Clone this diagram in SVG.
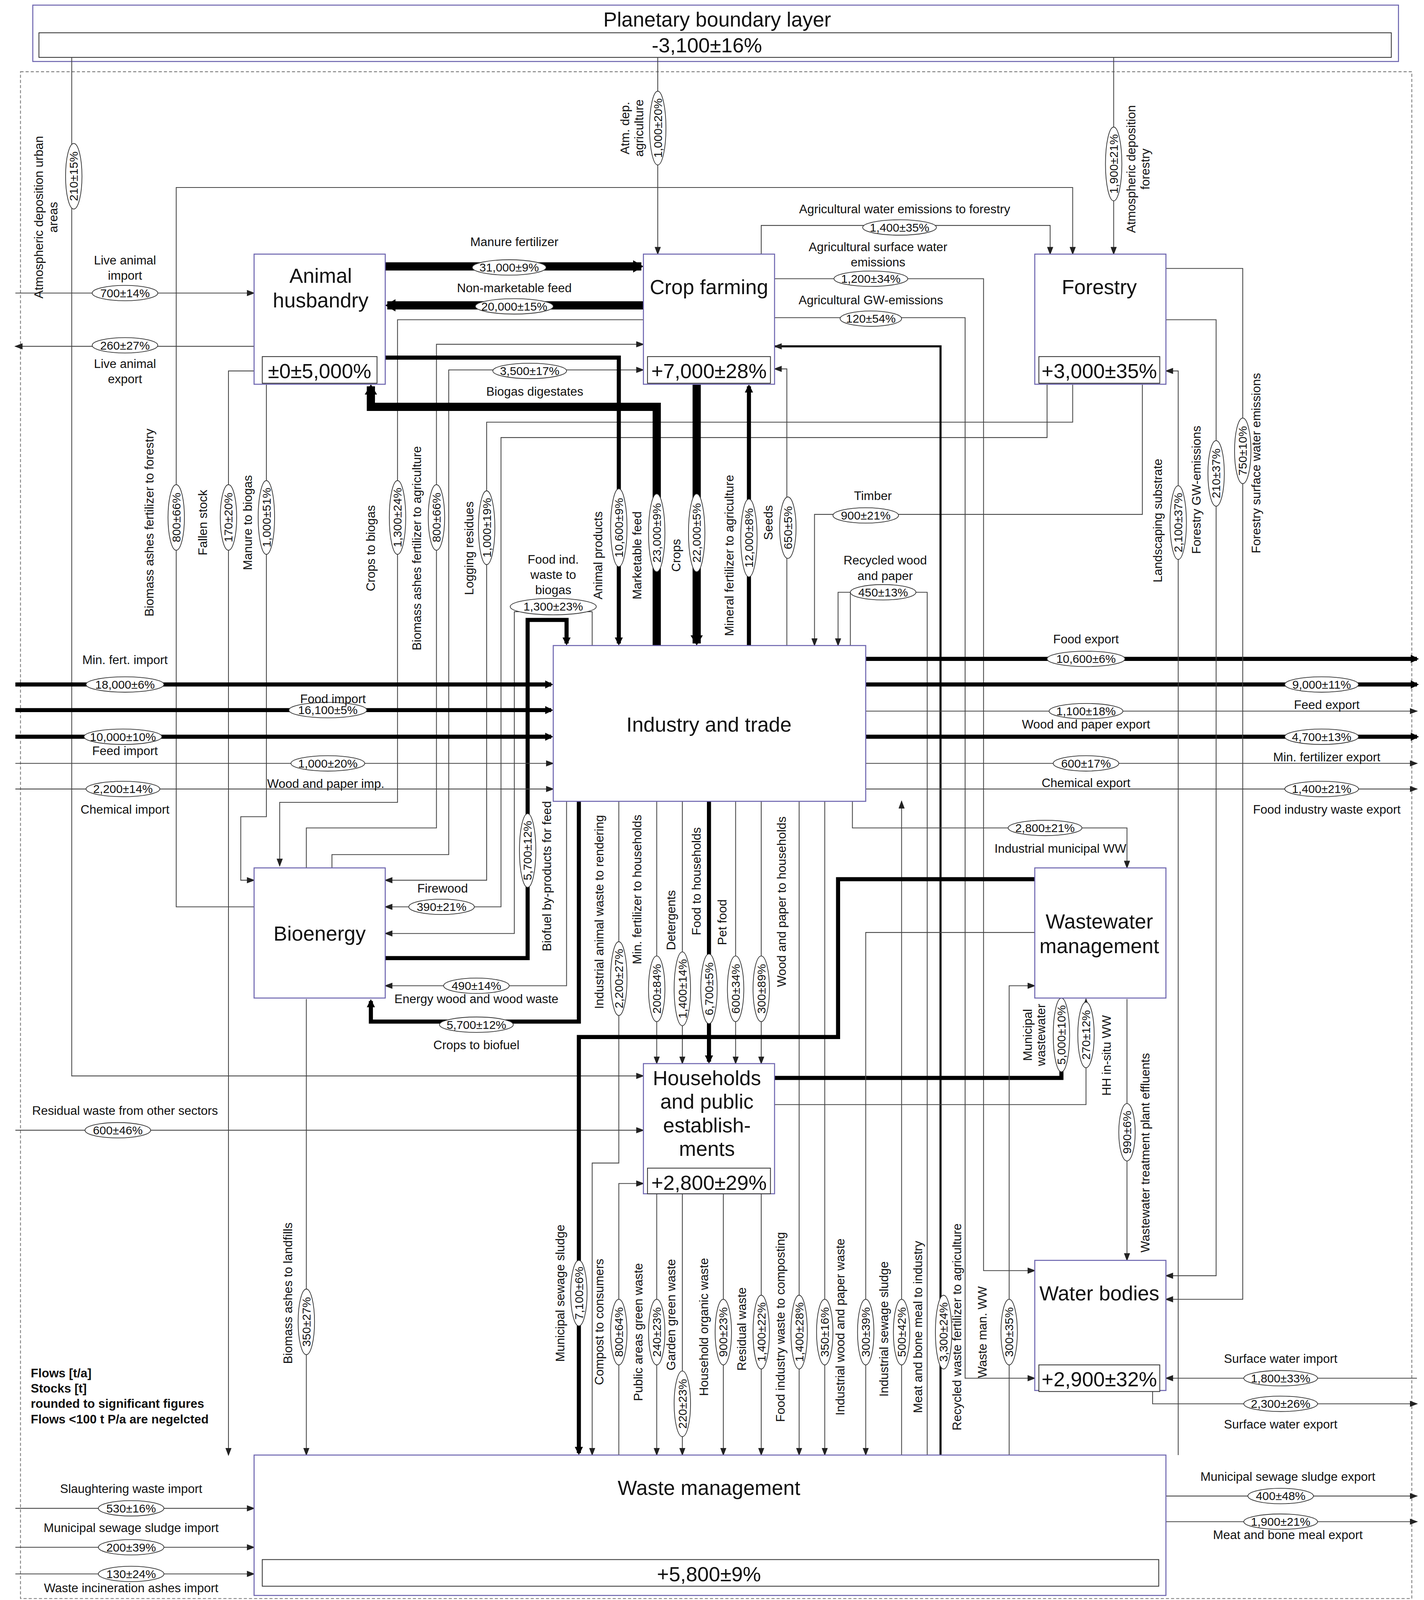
<svg xmlns="http://www.w3.org/2000/svg" width="3646" height="4098" viewBox="0 0 3646 4098">
<style>
text{font-family:"Liberation Sans",Arial,sans-serif;fill:#111;text-anchor:middle}
.nb{fill:#fff;stroke:#6e66b0;stroke-width:1}
.sb{fill:#fff;stroke:#333;stroke-width:0.8}
.ti{font-size:20px}
.st{font-size:20px}
.s{font-size:12px}
.e ellipse{fill:#fff;stroke:#333;stroke-width:0.7}
.e text{font-size:11.5px}
.l{fill:none;stroke:#444;stroke-width:0.8;marker-end:url(#a)}
.n{fill:none;stroke:#444;stroke-width:0.8}
.t{fill:none;stroke:#000;stroke-width:4;marker-end:url(#b)}
.m{fill:none;stroke:#000;stroke-width:2;marker-end:url(#a)}
.w{fill:none;stroke:#000;stroke-width:8;marker-end:url(#c)}
</style>
<defs>
<marker id="a" markerUnits="userSpaceOnUse" markerWidth="8" markerHeight="6" refX="7" refY="3" orient="auto"><path d="M0,0L8,3L0,6z" fill="#222"/></marker>
<marker id="b" markerUnits="userSpaceOnUse" markerWidth="8" markerHeight="8" refX="6" refY="4" orient="auto"><path d="M0,0L8,4L0,8z" fill="#000"/></marker>
<marker id="c" markerUnits="userSpaceOnUse" markerWidth="10" markerHeight="12" refX="8" refY="6" orient="auto"><path d="M0,0L10,6L0,12z" fill="#000"/></marker>
</defs>
<rect width="3646" height="4098" fill="#fff"/>
<g transform="scale(2.6232)">
<rect x="20" y="70" width="1358" height="1490" fill="none" stroke="#777" stroke-width="0.8" stroke-dasharray="3,2"/>
<g id="pbl"><rect x="32" y="5" width="1333" height="55" class="nb" stroke="#333"/><rect x="38" y="32" width="1320" height="24" class="sb"/>
<text x="700" y="26" class="ti">Planetary boundary layer</text><text x="690" y="51" class="st">-3,100±16%</text></g>

<g id="connectors">
<!-- atmospheric -->
<path class="l" d="M70,56V1050H628"/>
<path class="l" d="M642,56V248"/>
<path class="l" d="M1087,56V248"/>
<path class="l" d="M248,885H172V183H1047V248"/>
<path class="l" d="M743,248V220H1025V248"/>
<path class="l" d="M756,272H960V1240H1010"/>
<path class="l" d="M756,310H942V1345H1010"/>
<path class="l" d="M15,286H248"/>
<path class="l" d="M248,338H15"/>
<path class="w" d="M376,260H626"/>
<path class="w" d="M628,298H378"/>
<path class="l" d="M324,847V834H438V361H628"/>
<path class="l" d="M299,847V808H426V336H628"/>
<path class="l" d="M628,312H388V783H273V845"/>
<path class="l" d="M260,375V797H235V859H248"/>
<path class="l" d="M248,362H223V1420"/>
<path class="l" d="M1047,375V412H475V859H376"/>
<path class="l" d="M1022,375V427H489V885H376"/>
<path class="l" d="M578,630V597H502V911H376"/>
<path class="t" d="M376,935H515V605H553V628"/>
<path class="l" d="M553,782V962H376"/>
<path class="t" d="M565,782V997H362V977"/>
<path class="t" d="M376,349H604V628"/>
<path class="w" d="M641,630V397H362V377"/>
<path class="w" d="M680,375V628"/>
<path class="t" d="M731,630V377"/>
<path class="l" d="M768,630V360H756"/>
<path class="l" d="M1115,375V502H795V630"/>
<path class="l" d="M905,1420V578H818V630"/>
<path class="n" d="M830,578V630"/>
<path class="m" d="M918,1420V338H756"/>
<!-- exports -->
<path class="t" d="M845,643H1383"/>
<path class="t" d="M845,668H1383"/>
<path class="l" d="M845,694H1383"/>
<path class="t" d="M845,719H1383"/>
<path class="l" d="M845,745H1383"/>
<path class="l" d="M845,770H1383"/>
<path class="l" d="M832,782V808H1100V847"/>
<!-- imports -->
<path class="t" d="M15,668H538"/>
<path class="t" d="M15,693H538"/>
<path class="t" d="M15,719H538"/>
<path class="l" d="M15,745H540"/>
<path class="l" d="M15,770H540"/>
<!-- industry down -->
<path class="l" d="M604,782V1135H578V1420"/>
<path class="l" d="M604,1420V1155H628"/>
<path class="l" d="M641,782V1038"/>
<path class="l" d="M666,782V1038"/>
<path class="t" d="M692,782V1036"/>
<path class="l" d="M718,782V1038"/>
<path class="l" d="M743,782V1038"/>
<path class="l" d="M780,782V1420"/>
<path class="l" d="M805,782V1420"/>
<path class="l" d="M880,1420V782"/>
<!-- households -->
<path class="l" d="M641,1165V1420"/>
<path class="l" d="M666,1165V1420"/>
<path class="l" d="M706,1165V1420"/>
<path class="l" d="M743,1165V1420"/>
<path class="l" d="M15,1103H628"/>
<path class="t" d="M756,1052H1036V977"/>
<path class="l" d="M756,1078H1060V975"/>
<path class="l" d="M1100,975V1230"/>
<path class="t" d="M1010,858H818V1012H565V1418"/>
<path class="l" d="M1010,910H845V1420"/>
<path class="l" d="M985,1420V962H1010"/>
<path class="l" d="M299,975V1420"/>
<!-- forestry -->
<path class="l" d="M1138,262H1213V1268H1138"/>
<path class="l" d="M1138,312H1187V1245H1138"/>
<path class="l" d="M1150,1420V362H1138"/>
<!-- water -->
<path class="l" d="M1383,1345H1138"/>
<path class="l" d="M1125,1357V1370H1383"/>
<!-- waste -->
<path class="l" d="M15,1472H248"/>
<path class="l" d="M15,1510H248"/>
<path class="l" d="M15,1536H248"/>
<path class="l" d="M1138,1460H1383"/>
<path class="l" d="M1138,1485H1383"/>

<!-- labels horizontal -->
<g class="e">
<g transform="translate(878,222)"><ellipse rx="36" ry="7.5"/><text y="4">1,400±35%</text></g>
<g transform="translate(850,272)"><ellipse rx="36" ry="7.5"/><text y="4">1,200±34%</text></g>
<g transform="translate(850,311)"><ellipse rx="30" ry="7.5"/><text y="4">120±54%</text></g>
<g transform="translate(122,286)"><ellipse rx="32" ry="7.5"/><text y="4">700±14%</text></g>
<g transform="translate(122,337)"><ellipse rx="32" ry="7.5"/><text y="4">260±27%</text></g>
<g transform="translate(497,261)"><ellipse rx="36" ry="7.5"/><text y="4">31,000±9%</text></g>
<g transform="translate(502,299)"><ellipse rx="38" ry="7.5"/><text y="4">20,000±15%</text></g>
<g transform="translate(517,362)"><ellipse rx="36" ry="7.5"/><text y="4">3,500±17%</text></g>
<g transform="translate(540,592)"><ellipse rx="42" ry="8"/><text y="4">1,300±23%</text></g>
<g transform="translate(862,578)"><ellipse rx="32" ry="7.5"/><text y="4">450±13%</text></g>
<g transform="translate(845,503)"><ellipse rx="32" ry="7.5"/><text y="4">900±21%</text></g>
<g transform="translate(431,885)"><ellipse rx="32" ry="7.5"/><text y="4">390±21%</text></g>
<g transform="translate(465,962)"><ellipse rx="32" ry="7.5"/><text y="4">490±14%</text></g>
<g transform="translate(465,1000)"><ellipse rx="36" ry="7.5"/><text y="4">5,700±12%</text></g>
<g transform="translate(1060,643)"><ellipse rx="38" ry="7.5"/><text y="4">10,600±6%</text></g>
<g transform="translate(1290,668)"><ellipse rx="36" ry="7.5"/><text y="4">9,000±11%</text></g>
<g transform="translate(1060,694)"><ellipse rx="36" ry="7.5"/><text y="4">1,100±18%</text></g>
<g transform="translate(1290,719)"><ellipse rx="36" ry="7.5"/><text y="4">4,700±13%</text></g>
<g transform="translate(1060,745)"><ellipse rx="32" ry="7.5"/><text y="4">600±17%</text></g>
<g transform="translate(1290,770)"><ellipse rx="36" ry="7.5"/><text y="4">1,400±21%</text></g>
<g transform="translate(1020,808)"><ellipse rx="36" ry="7.5"/><text y="4">2,800±21%</text></g>
<g transform="translate(122,668)"><ellipse rx="38" ry="7.5"/><text y="4">18,000±6%</text></g>
<g transform="translate(320,693)"><ellipse rx="38" ry="7.5"/><text y="4">16,100±5%</text></g>
<g transform="translate(120,719)"><ellipse rx="38" ry="7.5"/><text y="4">10,000±10%</text></g>
<g transform="translate(320,745)"><ellipse rx="36" ry="7.5"/><text y="4">1,000±20%</text></g>
<g transform="translate(120,770)"><ellipse rx="36" ry="7.5"/><text y="4">2,200±14%</text></g>
<g transform="translate(115,1103)"><ellipse rx="32" ry="7.5"/><text y="4">600±46%</text></g>
<g transform="translate(1250,1345)"><ellipse rx="36" ry="7.5"/><text y="4">1,800±33%</text></g>
<g transform="translate(1250,1370)"><ellipse rx="36" ry="7.5"/><text y="4">2,300±26%</text></g>
<g transform="translate(128,1472)"><ellipse rx="32" ry="7.5"/><text y="4">530±16%</text></g>
<g transform="translate(128,1510)"><ellipse rx="32" ry="7.5"/><text y="4">200±39%</text></g>
<g transform="translate(128,1536)"><ellipse rx="32" ry="7.5"/><text y="4">130±24%</text></g>
<g transform="translate(1250,1460)"><ellipse rx="32" ry="7.5"/><text y="4">400±48%</text></g>
<g transform="translate(1250,1485)"><ellipse rx="36" ry="7.5"/><text y="4">1,900±21%</text></g>
</g>
<!-- labels vertical -->
<g class="e">
<g transform="translate(72,172) rotate(-90)"><ellipse rx="32" ry="8"/><text y="4">210±15%</text></g>
<g transform="translate(642,125) rotate(-90)"><ellipse rx="36" ry="8"/><text y="4">1,000±20%</text></g>
<g transform="translate(1087,160) rotate(-90)"><ellipse rx="36" ry="8"/><text y="4">1,900±21%</text></g>
<g transform="translate(172,505) rotate(-90)"><ellipse rx="32" ry="8"/><text y="4">800±66%</text></g>
<g transform="translate(223,505) rotate(-90)"><ellipse rx="32" ry="8"/><text y="4">170±20%</text></g>
<g transform="translate(260,505) rotate(-90)"><ellipse rx="36" ry="8"/><text y="4">1,000±51%</text></g>
<g transform="translate(388,505) rotate(-90)"><ellipse rx="36" ry="8"/><text y="4">1,300±24%</text></g>
<g transform="translate(426,505) rotate(-90)"><ellipse rx="32" ry="8"/><text y="4">800±66%</text></g>
<g transform="translate(475,515) rotate(-90)"><ellipse rx="36" ry="8"/><text y="4">1,000±19%</text></g>
<g transform="translate(604,515) rotate(-90)"><ellipse rx="38" ry="8"/><text y="4">10,600±9%</text></g>
<g transform="translate(641,520) rotate(-90)"><ellipse rx="38" ry="8"/><text y="4">23,000±9%</text></g>
<g transform="translate(680,520) rotate(-90)"><ellipse rx="38" ry="8"/><text y="4">22,000±5%</text></g>
<g transform="translate(731,525) rotate(-90)"><ellipse rx="38" ry="8"/><text y="4">12,000±8%</text></g>
<g transform="translate(769,515) rotate(-90)"><ellipse rx="30" ry="8"/><text y="4">650±5%</text></g>
<g transform="translate(1150,510) rotate(-90)"><ellipse rx="36" ry="8"/><text y="4">2,100±37%</text></g>
<g transform="translate(1187,462) rotate(-90)"><ellipse rx="32" ry="8"/><text y="4">210±37%</text></g>
<g transform="translate(1213,440) rotate(-90)"><ellipse rx="32" ry="8"/><text y="4">750±10%</text></g>
<g transform="translate(515,830) rotate(-90)"><ellipse rx="36" ry="8"/><text y="4">5,700±12%</text></g>
<g transform="translate(604,955) rotate(-90)"><ellipse rx="36" ry="8"/><text y="4">2,200±27%</text></g>
<g transform="translate(641,965) rotate(-90)"><ellipse rx="32" ry="8"/><text y="4">200±84%</text></g>
<g transform="translate(666,965) rotate(-90)"><ellipse rx="36" ry="8"/><text y="4">1,400±14%</text></g>
<g transform="translate(692,965) rotate(-90)"><ellipse rx="34" ry="8"/><text y="4">6,700±5%</text></g>
<g transform="translate(718,965) rotate(-90)"><ellipse rx="32" ry="8"/><text y="4">600±34%</text></g>
<g transform="translate(743,965) rotate(-90)"><ellipse rx="32" ry="8"/><text y="4">300±89%</text></g>
<g transform="translate(1036,1010) rotate(-90)"><ellipse rx="36" ry="8"/><text y="4">5,000±10%</text></g>
<g transform="translate(1060,1010) rotate(-90)"><ellipse rx="32" ry="8"/><text y="4">270±12%</text></g>
<g transform="translate(1100,1105) rotate(-90)"><ellipse rx="28" ry="8"/><text y="4">990±6%</text></g>
<g transform="translate(565,1262) rotate(-90)"><ellipse rx="32" ry="8"/><text y="4">7,100±6%</text></g>
<g transform="translate(299,1290) rotate(-90)"><ellipse rx="32" ry="8"/><text y="4">350±27%</text></g>
<g transform="translate(604,1300) rotate(-90)"><ellipse rx="32" ry="8"/><text y="4">800±64%</text></g>
<g transform="translate(641,1300) rotate(-90)"><ellipse rx="32" ry="8"/><text y="4">240±23%</text></g>
<g transform="translate(666,1370) rotate(-90)"><ellipse rx="32" ry="8"/><text y="4">220±23%</text></g>
<g transform="translate(706,1300) rotate(-90)"><ellipse rx="32" ry="8"/><text y="4">900±23%</text></g>
<g transform="translate(743,1300) rotate(-90)"><ellipse rx="36" ry="8"/><text y="4">1,400±22%</text></g>
<g transform="translate(780,1300) rotate(-90)"><ellipse rx="36" ry="8"/><text y="4">1,400±28%</text></g>
<g transform="translate(805,1300) rotate(-90)"><ellipse rx="32" ry="8"/><text y="4">350±16%</text></g>
<g transform="translate(845,1300) rotate(-90)"><ellipse rx="32" ry="8"/><text y="4">300±39%</text></g>
<g transform="translate(880,1300) rotate(-90)"><ellipse rx="32" ry="8"/><text y="4">500±42%</text></g>
<g transform="translate(921,1300) rotate(-90)"><ellipse rx="36" ry="8"/><text y="4">3,300±24%</text></g>
<g transform="translate(985,1300) rotate(-90)"><ellipse rx="32" ry="8"/><text y="4">300±35%</text></g>
</g>
<!-- flow names horizontal -->
<g class="s">
<text x="883" y="208">Agricultural water emissions to forestry</text>
<text x="857" y="245">Agricultural surface water</text><text x="857" y="260">emissions</text>
<text x="850" y="297">Agricultural GW-emissions</text>
<text x="122" y="258">Live animal</text><text x="122" y="273">import</text>
<text x="122" y="359">Live animal</text><text x="122" y="374">export</text>
<text x="502" y="240">Manure fertilizer</text>
<text x="502" y="285">Non-marketable feed</text>
<text x="522" y="386">Biogas digestates</text>
<text x="540" y="550">Food ind.</text><text x="540" y="565">waste to</text><text x="540" y="580">biogas</text>
<text x="852" y="488">Timber</text>
<text x="864" y="551">Recycled wood</text><text x="864" y="566">and paper</text>
<text x="432" y="871">Firewood</text>
<text x="465" y="979">Energy wood and wood waste</text>
<text x="465" y="1024">Crops to biofuel</text>
<text x="1060" y="628">Food export</text>
<text x="1295" y="692">Feed export</text>
<text x="1060" y="711">Wood and paper export</text>
<text x="1295" y="743">Min. fertilizer export</text>
<text x="1060" y="768">Chemical export</text>
<text x="1295" y="794">Food industry waste export</text>
<text x="1035" y="832">Industrial municipal WW</text>
<text x="122" y="648">Min. fert. import</text>
<text x="325" y="686">Food import</text>
<text x="122" y="737">Feed import</text>
<text x="318" y="769">Wood and paper imp.</text>
<text x="122" y="794">Chemical import</text>
<text x="122" y="1088">Residual waste from other sectors</text>
<text x="1250" y="1330">Surface water import</text>
<text x="1250" y="1394">Surface water export</text>
<text x="128" y="1457">Slaughtering waste import</text>
<text x="128" y="1495">Municipal sewage sludge import</text>
<text x="128" y="1554">Waste incineration ashes import</text>
<text x="1257" y="1445">Municipal sewage sludge export</text>
<text x="1257" y="1502">Meat and bone meal export</text>
</g>
<!-- flow names vertical -->
<g class="s">
<text transform="translate(42,212) rotate(-90)">Atmospheric deposition urban</text>
<text transform="translate(56,212) rotate(-90)">areas</text>
<text transform="translate(614,125) rotate(-90)">Atm. dep.</text>
<text transform="translate(628,125) rotate(-90)">agriculture</text>
<text transform="translate(1108,165) rotate(-90)">Atmospheric deposition</text>
<text transform="translate(1122,165) rotate(-90)">forestry</text>
<text transform="translate(150,510) rotate(-90)">Biomass ashes fertilizer to forestry</text>
<text transform="translate(202,510) rotate(-90)">Fallen stock</text>
<text transform="translate(246,510) rotate(-90)">Manure to biogas</text>
<text transform="translate(366,535) rotate(-90)">Crops to biogas</text>
<text transform="translate(411,535) rotate(-90)">Biomass ashes fertilizer to agriculture</text>
<text transform="translate(462,535) rotate(-90)">Logging residues</text>
<text transform="translate(588,542) rotate(-90)">Animal products</text>
<text transform="translate(626,542) rotate(-90)">Marketable feed</text>
<text transform="translate(664,542) rotate(-90)">Crops</text>
<text transform="translate(716,542) rotate(-90)">Mineral fertilizer to agriculture</text>
<text transform="translate(754,510) rotate(-90)">Seeds</text>
<text transform="translate(1134,508) rotate(-90)">Landscaping substrate</text>
<text transform="translate(1172,478) rotate(-90)">Forestry GW-emissions</text>
<text transform="translate(1230,452) rotate(-90)">Forestry surface water emissions</text>
<text transform="translate(538,855) rotate(-90)">Biofuel by-products for feed</text>
<text transform="translate(589,890) rotate(-90)">Industrial animal waste to rendering</text>
<text transform="translate(626,868) rotate(-90)">Min. fertilizer to households</text>
<text transform="translate(659,898) rotate(-90)">Detergents</text>
<text transform="translate(684,860) rotate(-90)">Food to households</text>
<text transform="translate(709,900) rotate(-90)">Pet food</text>
<text transform="translate(767,880) rotate(-90)">Wood and paper to households</text>
<text transform="translate(1007,1010) rotate(-90)">Municipal</text>
<text transform="translate(1020,1010) rotate(-90)">wastewater</text>
<text transform="translate(1084,1030) rotate(-90)">HH in-situ WW</text>
<text transform="translate(1122,1125) rotate(-90)">Wastewater treatment plant effluents</text>
<text transform="translate(551,1262) rotate(-90)">Municipal sewage sludge</text>
<text transform="translate(285,1262) rotate(-90)">Biomass ashes to landfills</text>
<text transform="translate(589,1290) rotate(-90)">Compost to consumers</text>
<text transform="translate(627,1300) rotate(-90)">Public areas green waste</text>
<text transform="translate(659,1283) rotate(-90)">Garden green waste</text>
<text transform="translate(691,1295) rotate(-90)">Household organic waste</text>
<text transform="translate(728,1297) rotate(-90)">Residual waste</text>
<text transform="translate(766,1295) rotate(-90)">Food industry waste to composting</text>
<text transform="translate(824,1295) rotate(-90)">Industrial wood and paper waste</text>
<text transform="translate(867,1297) rotate(-90)">Industrial sewage sludge</text>
<text transform="translate(900,1295) rotate(-90)">Meat and bone meal to industry</text>
<text transform="translate(938,1295) rotate(-90)">Recycled waste fertilizer to agriculture</text>
<text transform="translate(963,1300) rotate(-90)">Waste man. WW</text>
</g>
</g>

<g id="animal"><rect x="248" y="248" width="128" height="127" class="nb"/><text x="313" y="276" class="ti">Animal</text><text x="313" y="300" class="ti">husbandry</text><rect x="256" y="348" width="112" height="26" class="sb"/><text x="312" y="369" class="st">±0±5,000%</text></g>
<g id="crop"><rect x="628" y="248" width="128" height="127" class="nb"/><text x="692" y="287" class="ti">Crop farming</text><rect x="632" y="348" width="120" height="26" class="sb"/><text x="692" y="369" class="st">+7,000±28%</text></g>
<g id="forestry"><rect x="1010" y="248" width="128" height="127" class="nb"/><text x="1073" y="287" class="ti">Forestry</text><rect x="1014" y="348" width="118" height="26" class="sb"/><text x="1073" y="369" class="st">+3,000±35%</text></g>
<g id="industry"><rect x="540" y="630" width="305" height="152" class="nb"/><text x="692" y="714" class="ti">Industry and trade</text></g>
<g id="bioenergy"><rect x="248" y="847" width="128" height="127" class="nb"/><text x="312" y="918" class="ti">Bioenergy</text></g>
<g id="wastewater"><rect x="1010" y="847" width="128" height="127" class="nb"/><text x="1073" y="906" class="ti">Wastewater</text><text x="1073" y="930" class="ti">management</text></g>
<g id="households"><rect x="628" y="1038" width="128" height="127" class="nb"/><text x="690" y="1059" class="ti">Households</text><text x="690" y="1082" class="ti">and public</text><text x="690" y="1105" class="ti">establish-</text><text x="690" y="1128" class="ti">ments</text><rect x="632" y="1140" width="120" height="25" class="sb"/><text x="692" y="1161" class="st">+2,800±29%</text></g>
<g id="waterbodies"><rect x="1010" y="1230" width="128" height="127" class="nb"/><text x="1073" y="1269" class="ti">Water bodies</text><rect x="1014" y="1332" width="118" height="26" class="sb"/><text x="1073" y="1353" class="st">+2,900±32%</text></g>
<g id="waste"><rect x="248" y="1420" width="890" height="137" class="nb"/><text x="692" y="1459" class="ti">Waste management</text><rect x="256" y="1522" width="875" height="26" class="sb"/><text x="692" y="1543" class="st">+5,800±9%</text></g>
<g id="notes" style="font-size:12px;font-weight:bold"><text x="30" y="1344" style="text-anchor:start">Flows  [t/a]</text><text x="30" y="1359" style="text-anchor:start">Stocks [t]</text><text x="30" y="1374" style="text-anchor:start">rounded to significant figures</text><text x="30" y="1389" style="text-anchor:start">Flows &lt;100 t P/a are negelcted</text></g>
</g>
</svg>
